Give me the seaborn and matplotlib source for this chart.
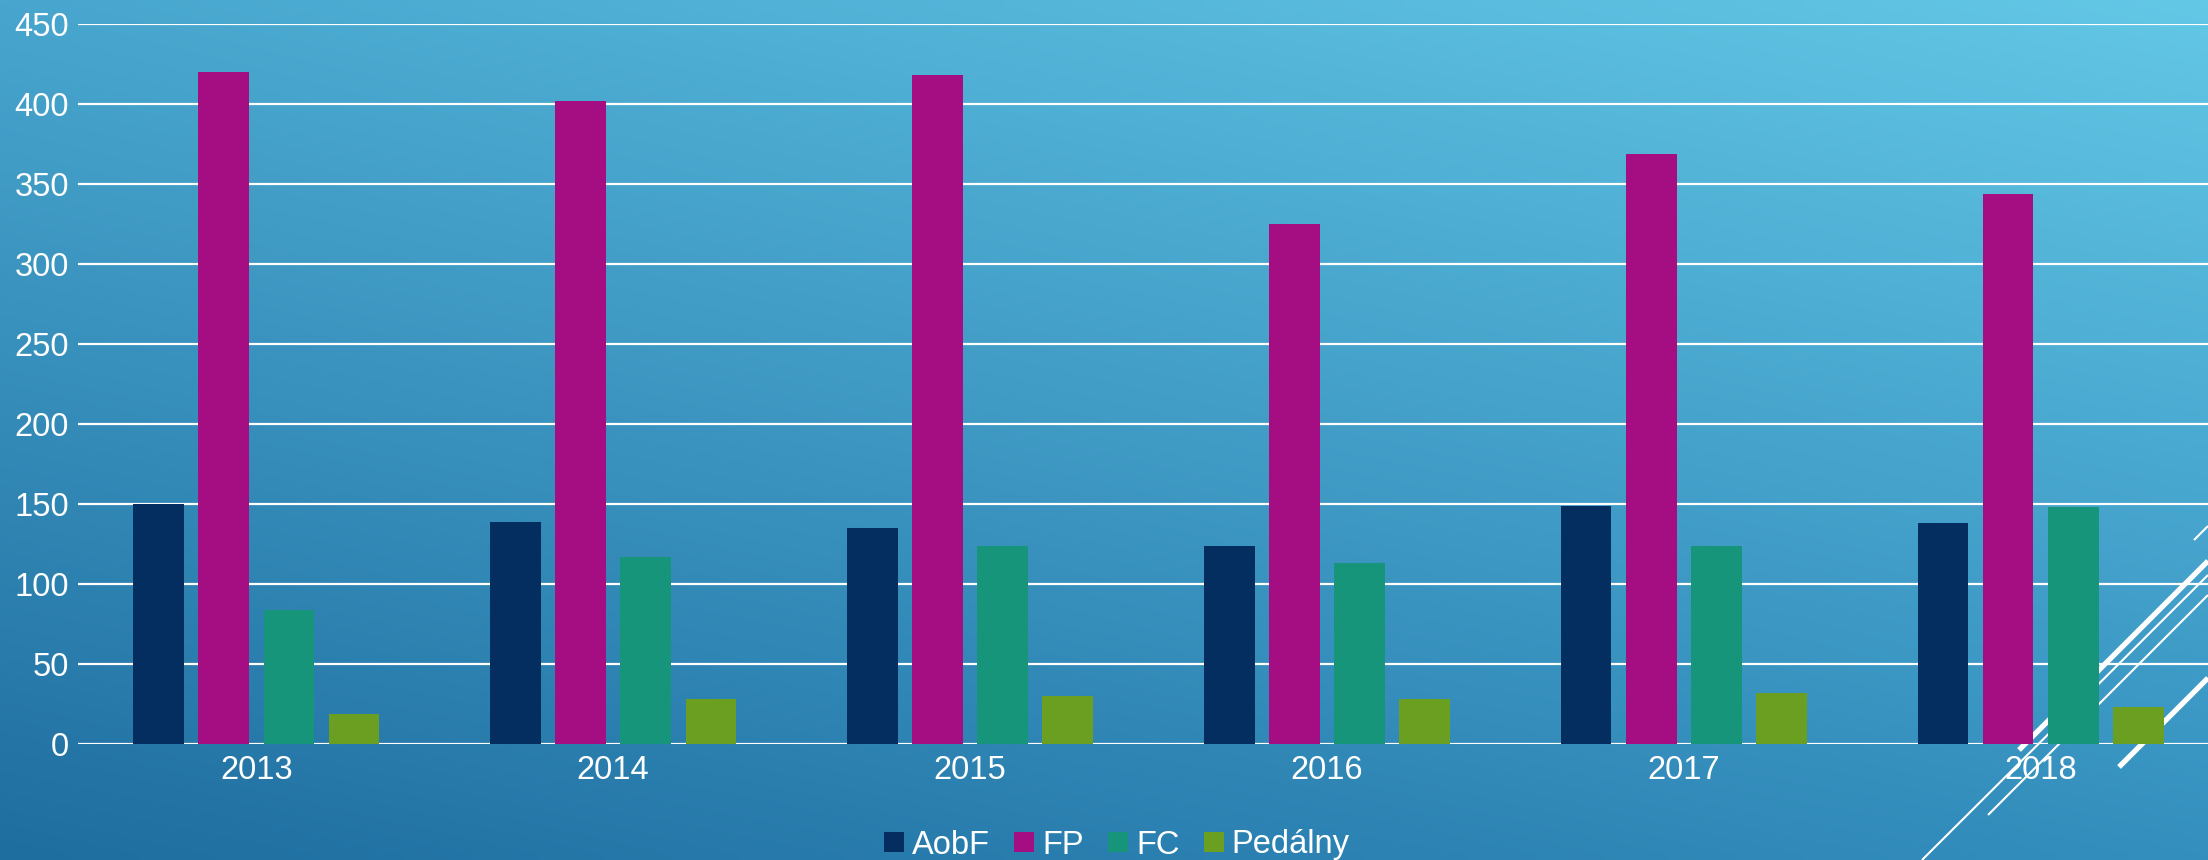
import numpy as np
import pandas as pd
import matplotlib
matplotlib.use("Agg")
import matplotlib.pyplot as plt
import seaborn as sns

# ── data ─────────────────────────────────────────────────────────────────────
roky = ["2013", "2014", "2015", "2016", "2017", "2018"]
aobf = [150, 139, 135, 124, 149, 138]
fp = [420, 402, 418, 325, 369, 344]
fc = [84, 117, 124, 113, 124, 148]
pedalny = [19, 28, 30, 28, 32, 23]

serie = ["AobF", "FP", "FC", "Pedálny"]
farby = ["#052E60", "#A50E82", "#16957B", "#6A9F22"]

df = pd.DataFrame({"rok": roky, "AobF": aobf, "FP": fp, "FC": fc, "Pedálny": pedalny})
df = df.melt(id_vars="rok", var_name="seria", value_name="hodnota")

sns.set_theme(style="white")
plt.rcParams["font.family"] = ["Liberation Sans", "DejaVu Sans"]

W, H = 2208, 860
fig = plt.figure(figsize=(W / 100, H / 100), dpi=100)

# ── gradient background + decorative lines ──────────────────────────────────
bg = fig.add_axes([0, 0, 1, 1], zorder=-1)
bl = np.array([31, 110, 160]) / 255
br = np.array([52, 143, 190]) / 255
tl = np.array([72, 166, 206]) / 255
tr = np.array([99, 199, 230]) / 255
u = np.linspace(0, 1, 200)[None, :, None]
v = np.linspace(1, 0, 80)[:, None, None]  # row 0 = top
grad = (tl * (1 - u) * v + tr * u * v + bl * (1 - u) * (1 - v) + br * u * (1 - v))
bg.imshow(grad, extent=[0, W, H, 0], aspect="auto", interpolation="bilinear")
ciary = [((1922, 860), (2208, 575), 1.5),
         ((1988, 815), (2208, 595), 1.5),
         ((2019, 750), (2208, 561), 3.8),
         ((2119, 767), (2208, 678), 3.8),
         ((2194, 540), (2208, 526), 1.5)]
for (x0, y0), (x1, y1), lw in ciary:
    bg.plot([x0, x1], [y0, y1], color="white", lw=lw, solid_capstyle="butt")
bg.set_xlim(0, W); bg.set_ylim(H, 0)
bg.axis("off")

# ── bar chart ────────────────────────────────────────────────────────────────
ax = fig.add_axes([78 / W, 1 - 744 / H, 2141 / W, (744 - 24) / H])
ax.patch.set_alpha(0)
sns.barplot(data=df, x="rok", y="hodnota", hue="seria", hue_order=serie,
            palette=farby, saturation=1, width=0.73, gap=0.22, linewidth=0,
            ax=ax)
ax.set_ylim(0, 450)
ax.set_yticks(range(0, 451, 50))
ax.set_xlim(-0.5, len(roky) - 0.5)
ax.set_axisbelow(True)
ax.grid(axis="y", color="white", lw=1.6)
ax.grid(axis="x", visible=False)
for s in ax.spines.values():
    s.set_visible(False)
ax.set_xlabel(""); ax.set_ylabel("")
ax.tick_params(axis="both", colors="white", labelsize=23.5, length=0)
ax.tick_params(axis="y", pad=6.5)
ax.tick_params(axis="x", pad=8)

handles, labels = ax.get_legend_handles_labels()
ax.legend_.remove()
fig.legend(handles, labels, loc="center", bbox_to_anchor=(1117 / W, 1 - 845 / H),
           ncol=4, frameon=False, labelcolor="white", fontsize=23.5,
           handlelength=0.6, handleheight=0.6, handletextpad=0.25,
           columnspacing=0.75)

fig.savefig("out.png", dpi=100)
